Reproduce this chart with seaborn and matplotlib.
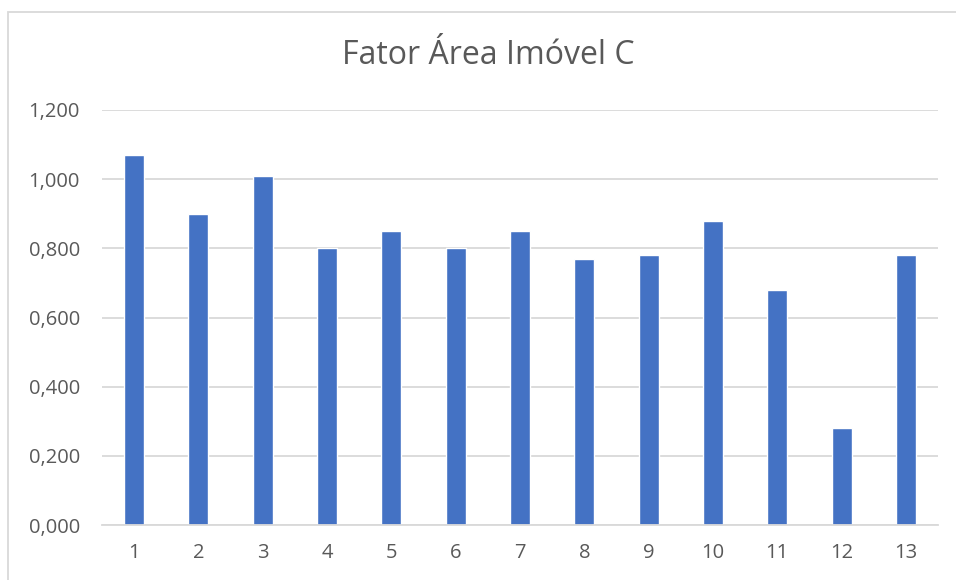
import matplotlib
matplotlib.use("Agg")
import matplotlib.pyplot as plt
import seaborn as sns
import pandas as pd
from matplotlib.patches import Rectangle
from matplotlib.ticker import FuncFormatter

categories = ["1", "2", "3", "4", "5", "6", "7", "8", "9", "10", "11", "12", "13"]
values = [1.07, 0.90, 1.01, 0.80, 0.85, 0.80, 0.85, 0.77, 0.78, 0.88, 0.68, 0.28, 0.78]
title = "Fator Área Imóvel C"

df = pd.DataFrame({"cat": categories, "val": values})

sns.set_theme(style="white")
plt.rcParams['font.family'] = ['Open Sans', 'DejaVu Sans']

W, H = 956, 580
fig = plt.figure(figsize=(W / 100, H / 100), dpi=100)
ax = fig.add_axes([102 / W, 1 - 525 / H, (938 - 102) / W, (525 - 110) / H])

sns.barplot(data=df, x="cat", y="val", ax=ax, color="#4472C4", width=0.31,
            saturation=1, order=categories)

ax.set_ylim(0, 1.2)
ax.set_xlim(-0.5, len(categories) - 0.5)
ax.set_yticks([0, 0.2, 0.4, 0.6, 0.8, 1.0, 1.2])
ax.yaxis.set_major_formatter(FuncFormatter(lambda v, p: f"{v:.3f}".replace(".", ",")))
ax.grid(axis="y", color="#D9D9D9", linewidth=1.3)
ax.set_axisbelow(True)
for s in ["top", "right", "left"]:
    ax.spines[s].set_visible(False)
ax.spines["bottom"].set_color("#D9D9D9")
ax.spines["bottom"].set_linewidth(1.3)
ax.tick_params(axis="both", length=0, labelsize=14.5, colors="#595959")
ax.tick_params(axis="y", pad=16)
ax.tick_params(axis="x", pad=13)
ax.set_xlabel("")
ax.set_ylabel("")

fig.text(488 / W, 1 - 56 / H, title, ha="center", va="center", fontsize=23, color="#595959")

fig.patches.append(Rectangle((7.5 / W, -0.1), 1.2, 1.1 - 12 / H, transform=fig.transFigure,
                             fill=False, edgecolor="#D9D9D9", linewidth=1.3, zorder=-1))

fig.savefig("out.png", dpi=100)
